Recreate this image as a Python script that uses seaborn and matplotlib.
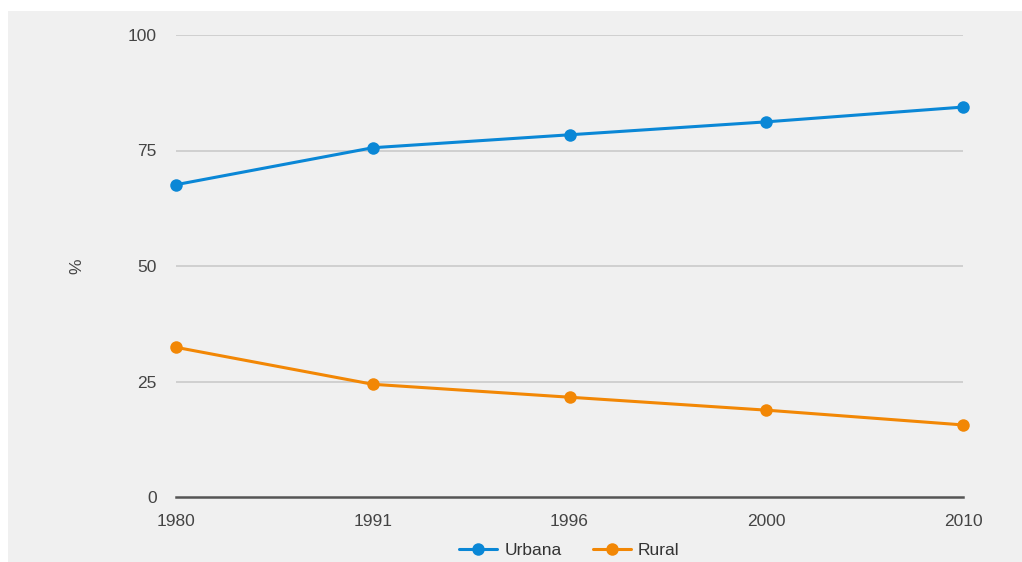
import matplotlib
matplotlib.use("Agg")
import matplotlib.pyplot as plt
import seaborn as sns
import pandas as pd

# Population share by area (%)
years = ["1980", "1991", "1996", "2000", "2010"]
urbana = [67.6, 75.6, 78.4, 81.2, 84.4]
rural = [32.4, 24.4, 21.6, 18.8, 15.6]
series_names = ["Urbana", "Rural"]
y_ticks = [0, 25, 50, 75, 100]

BG = "#f0f0f0"
colors = {"Urbana": "#0a87d6", "Rural": "#f28705"}

sns.set_theme(style="white")
plt.rcParams["font.family"] = ["Liberation Sans", "DejaVu Sans"]

df = pd.DataFrame({
    "pos": list(range(len(years))) * 2,
    "value": urbana + rural,
    "serie": [series_names[0]] * len(years) + [series_names[1]] * len(years),
})

fig = plt.figure(figsize=(10.22, 5.62), dpi=100)
fig.patch.set_facecolor("white")
# grey panel with a thin white margin on the top and left
fig.patches.append(plt.Rectangle((8 / 1022, 0), 1 - 8 / 1022, 1 - 11 / 562,
                                 transform=fig.transFigure, facecolor=BG,
                                 edgecolor="none", zorder=-10))
ax = fig.add_axes([176 / 1022, 1 - 497 / 562, (963 - 176) / 1022, (497 - 35) / 562])
ax.set_facecolor(BG)

sns.lineplot(data=df, x="pos", y="value", hue="serie", palette=colors,
             marker="o", markersize=9, markeredgewidth=0, linewidth=2.2,
             ax=ax, clip_on=False, zorder=5)

ax.set_xlim(0, len(years) - 1)
ax.set_ylim(0, 100)
ax.set_xticks(range(len(years)))
ax.set_xticklabels(years)
ax.set_yticks(y_ticks)
ax.set_yticklabels([str(t) for t in y_ticks])

for t in y_ticks[1:]:
    ax.axhline(t, color="#d0d0d0", linewidth=1.4, zorder=1)

for s in ["top", "right", "left"]:
    ax.spines[s].set_visible(False)
ax.spines["bottom"].set_color("#555555")
ax.spines["bottom"].set_linewidth(1.8)
ax.spines["bottom"].set_zorder(6)

ax.tick_params(axis="both", length=0, colors="#444444", labelsize=12.5)
ax.tick_params(axis="y", pad=14)
ax.tick_params(axis="x", pad=12)

ax.set_xlabel("")
ax.set_ylabel("%", fontsize=12.5, color="#444444")
ax.yaxis.set_label_coords(-0.117, 0.5)

handles, labels = ax.get_legend_handles_labels()
ax.legend(handles, labels, loc="center", bbox_to_anchor=(0.5, -0.115),
          ncol=2, frameon=False, fontsize=12.5, handlelength=2.2,
          handletextpad=0.4, columnspacing=1.8, labelcolor="#333333")

fig.savefig("out.png", dpi=100, facecolor=fig.get_facecolor())
